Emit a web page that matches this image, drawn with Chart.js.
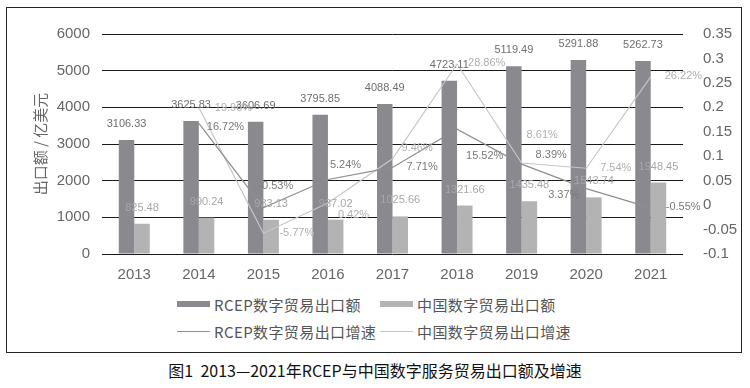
<!DOCTYPE html>
<html>
<head>
<meta charset="utf-8">
<title>RCEP与中国数字服务贸易出口额及增速</title>
<script src="https://cdn.jsdelivr.net/npm/chart.js@4.4.1/dist/chart.umd.min.js"></script>
<style>
  body { margin: 0; background: #fff; }
  #wrap { position: relative; width: 750px; height: 388px; overflow: hidden; font-family: "Noto Sans CJK SC", sans-serif; }
  #frame { position: absolute; left: 6px; top: 7px; width: 736px; height: 346px; border: 1px solid #222; box-sizing: border-box; }
  #chart { position: absolute; left: 0; top: 0; }
  .item { position: absolute; height: 20px; display: flex; align-items: center; font-size: 15px; color: #555; letter-spacing: 0.4px; white-space: nowrap; }
  .swatch { display: inline-block; width: 33px; margin-right: 4px; }
  #caption { position: absolute; left: 0; top: 358px; width: 750px; text-align: center; font-size: 16px; color: #111; font-weight: 400; }
</style>
</head>
<body>
<div id="wrap">
  <div id="frame"></div>
  <canvas id="chart" width="750" height="290"></canvas>
  <div id="legend"></div>
  <div id="caption">图1&nbsp;&nbsp;2013—2021年RCEP与中国数字服务贸易出口额及增速</div>
</div>
<script>
const years = ["2013", "2014", "2015", "2016", "2017", "2018", "2019", "2020", "2021"];
const rcepExport = [3106.33, 3625.83, 3606.69, 3795.85, 4088.49, 4723.11, 5119.49, 5291.88, 5262.73];
const chinaExport = [825.48, 990.24, 933.13, 937.02, 1025.66, 1321.66, 1435.48, 1543.74, 1948.45];
const rcepGrowth = [null, 0.1672, -0.0053, 0.0524, 0.0771, 0.1552, 0.0839, 0.0337, -0.0055];
const chinaGrowth = [null, 0.1996, -0.0577, 0.0042, 0.0946, 0.2886, 0.0861, 0.0754, 0.2622];
const leftTicks = [0, 1000, 2000, 3000, 4000, 5000, 6000];
const rightTicks = [-0.1, -0.05, 0, 0.05, 0.1, 0.15, 0.2, 0.25, 0.3, 0.35];

// where each growth label sits relative to its point (dx, dy)
const rcepGrowthLabelPos = [null, [8, 4], [-5, -22], [2, -15], [14, 0], [9, 27], [14, -9], [-38, 6], [15, -1]];
const chinaGrowthLabelPos = [null, [16, 0], [16, 0], [10, 12], [9, -11], [11, -1], [5, -28], [14, 0], [14, -1]];

Chart.defaults.font.family = "'Liberation Sans', Arial, sans-serif";

const valueLabels = {
  id: "valueLabels",
  afterDatasetsDraw(chart) {
    const ctx = chart.ctx;
    ctx.save();
    ctx.font = "11px 'Liberation Sans', Arial, sans-serif";
    ctx.textBaseline = "middle";
    chart.data.datasets.forEach((ds, i) => {
      const meta = chart.getDatasetMeta(i);
      meta.data.forEach((el, j) => {
        const v = ds.data[j];
        if (v === null) return;
        ctx.fillStyle = ds.labelColor;
        if (ds.type === "line") {
          const off = ds.labelPos[j];
          ctx.textAlign = "left";
          ctx.fillText((v * 100).toFixed(2) + "%", el.x + off[0], el.y + off[1]);
        } else {
          ctx.textAlign = "center";
          ctx.fillText(v.toFixed(2), el.x, el.y - 16);
        }
      });
    });
    ctx.restore();
  }
};

const chart = new Chart(document.getElementById("chart"), {
  data: {
    labels: years,
    datasets: [
      {
        type: "bar",
        label: "RCEP数字贸易出口额",
        data: rcepExport,
        backgroundColor: "#8a8a8e",
        labelColor: "#6e6e6e",
        yAxisID: "y",
        order: 1,
        categoryPercentage: 0.48,
        barPercentage: 1
      },
      {
        type: "bar",
        label: "中国数字贸易出口额",
        data: chinaExport,
        backgroundColor: "#b3b3b3",
        labelColor: "#a8a8a8",
        yAxisID: "y",
        order: 1,
        categoryPercentage: 0.48,
        barPercentage: 1
      },
      {
        type: "line",
        label: "RCEP数字贸易出口增速",
        data: rcepGrowth,
        borderColor: "#8e8e8e",
        labelColor: "#7a7a7a",
        labelPos: rcepGrowthLabelPos,
        borderWidth: 1.2,
        pointRadius: 0,
        yAxisID: "y1",
        order: 0
      },
      {
        type: "line",
        label: "中国数字贸易出口增速",
        data: chinaGrowth,
        borderColor: "#c6c6c6",
        labelColor: "#b0b0b0",
        labelPos: chinaGrowthLabelPos,
        borderWidth: 1.2,
        pointRadius: 0,
        yAxisID: "y1",
        order: 0
      }
    ]
  },
  options: {
    responsive: false,
    animation: false,
    layout: { padding: { left: 31, right: 0, top: 34, bottom: 0 } },
    plugins: {
      legend: { display: false },
      tooltip: { enabled: false }
    },
    scales: {
      x: {
        grid: { display: false },
        border: { display: false },
        ticks: { color: "#666", font: { size: 15 }, padding: 4 },
        afterFit(s) { s.height = 36; }
      },
      y: {
        position: "left",
        min: 0,
        max: 6000,
        afterBuildTicks(s) { s.ticks = leftTicks.map(v => ({ value: v })); },
        grid: { color: "#1a1a1a", drawTicks: false },
        border: { display: false },
        ticks: { color: "#666", font: { size: 15 }, padding: 12, callback: v => String(v) },
        title: {
          display: true,
          text: "出口额 / 亿美元",
          color: "#666",
          font: { size: 15, family: "'Noto Sans CJK SC', sans-serif" },
          padding: 0
        },
        afterFit(s) { s.width = 71; }
      },
      y1: {
        position: "right",
        min: -0.1,
        max: 0.35,
        afterBuildTicks(s) { s.ticks = rightTicks.map(v => ({ value: v })); },
        grid: { display: false },
        border: { display: false },
        ticks: {
          color: "#666",
          font: { size: 15 },
          padding: 12,
          callback: v => String(+v.toFixed(2))
        },
        afterFit(s) { s.width = 67; }
      }
    }
  },
  plugins: [valueLabels]
});

const legendEl = document.getElementById("legend");
chart.data.datasets.forEach((ds, i) => {
  const item = document.createElement("div");
  item.className = "item";
  item.style.left = (i % 2 ? 380 : 177) + "px";
  item.style.top = (i < 2 ? 294 : 321) + "px";
  const sw = document.createElement("span");
  sw.className = "swatch";
  if (ds.type === "line") {
    sw.style.height = "1px";
    sw.style.background = ds.borderColor;
  } else {
    sw.style.height = "6px";
    sw.style.background = ds.backgroundColor;
  }
  item.appendChild(sw);
  item.appendChild(document.createTextNode(ds.label));
  legendEl.appendChild(item);
});
</script>
</body>
</html>
